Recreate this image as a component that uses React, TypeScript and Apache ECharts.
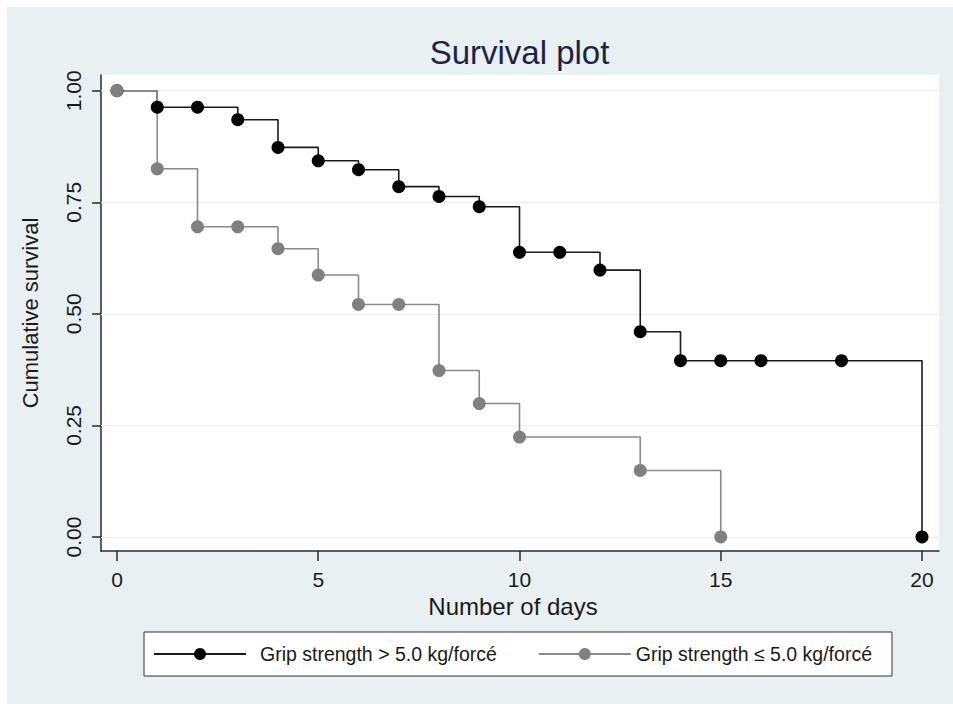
import React, { useEffect, useRef } from "react";
import * as echarts from "echarts";

// Kaplan–Meier estimates
const highDays = [0, 1, 2, 3, 4, 5, 6, 7, 8, 9, 10, 11, 12, 13, 14, 15, 16, 18, 20];
const highSurv = [1.0, 0.963, 0.963, 0.935, 0.873, 0.843, 0.823, 0.785, 0.763, 0.74, 0.638, 0.638, 0.598, 0.46, 0.395, 0.395, 0.395, 0.395, 0.0];
const lowDays = [0, 1, 2, 3, 4, 5, 6, 7, 8, 9, 10, 13, 15];
const lowSurv = [1.0, 0.825, 0.695, 0.695, 0.646, 0.587, 0.521, 0.521, 0.373, 0.299, 0.224, 0.149, 0.0];
const xTicks = [0, 5, 10, 15, 20];
const yTicks = [0, 0.25, 0.5, 0.75, 1];
const seriesNames = ["Grip strength > 5.0 kg/forcé", "Grip strength ≤ 5.0 kg/forcé"];
const chartTitle = "Survival plot";
const xTitle = "Number of days";
const yTitle = "Cumulative survival";

const FONT = "'Liberation Sans', Arial, Helvetica, sans-serif";

export default function App() {
  const ref = useRef<HTMLDivElement>(null);

  useEffect(() => {
    if (!ref.current) return;
    const chart = echarts.init(ref.current, undefined, { renderer: "svg" });
    const highPts = highDays.map((d, i) => [d, highSurv[i]]);
    const lowPts = lowDays.map((d, i) => [d, lowSurv[i]]);
    const axisColor = "#2a2a2a";
    chart.setOption({
      animation: false,
      backgroundColor: "#e9f0f2",
      title: {
        text: chartTitle,
        left: 512.5,
        textAlign: "center",
        top: 29,
        padding: 0,
        textStyle: { fontFamily: FONT, fontSize: 33, fontWeight: "normal", color: "#1b2447" },
      },
      grid: {
        left: 94,
        right: 14,
        top: 68,
        bottom: 153,
        show: true,
        backgroundColor: "#ffffff",
        borderWidth: 0,
      },
      legend: {
        data: [
          { name: seriesNames[0], textStyle: { padding: [0, 0, 0, 9] } },
          { name: seriesNames[1] },
        ],
        left: 137,
        top: 625,
        orient: "horizontal",
        itemWidth: 92,
        itemHeight: 15,
        itemGap: 41,
        padding: [12, 20, 12, 9],
        backgroundColor: "#ffffff",
        borderColor: "#333333",
        borderWidth: 1,
        borderRadius: 0,
        selectedMode: false,
        textStyle: { fontFamily: FONT, fontSize: 19.5, color: "#1a1a1a" },
      },
      xAxis: {
        type: "value",
        min: -0.3975,
        max: 20.4224,
        name: xTitle,
        nameLocation: "middle",
        nameGap: 41,
        nameTextStyle: { fontFamily: FONT, fontSize: 24, color: "#1a1a1a", padding: [0, 14, 0, 0] },
        axisLine: { show: true, onZero: false, lineStyle: { color: axisColor, width: 1.5 } },
        axisTick: { show: true, length: 10, customValues: xTicks, lineStyle: { color: axisColor, width: 1.5 } },
        axisLabel: {
          customValues: xTicks,
          margin: 18,
          fontFamily: FONT,
          fontSize: 21,
          color: "#1a1a1a",
          formatter: (v: number) => String(v),
        },
        splitLine: { show: false },
      },
      yAxis: {
        type: "value",
        min: -0.0314,
        max: 1.0352,
        name: yTitle,
        nameLocation: "middle",
        nameGap: 60,
        nameTextStyle: { fontFamily: FONT, fontSize: 22, color: "#1a1a1a" },
        axisLine: { show: true, onZero: false, lineStyle: { color: axisColor, width: 1.5 } },
        axisTick: { show: true, length: 9, customValues: yTicks, lineStyle: { color: axisColor, width: 1.5 } },
        axisLabel: {
          customValues: yTicks,
          rotate: 90,
          margin: 17,
          fontFamily: FONT,
          fontSize: 21,
          color: "#1a1a1a",
          formatter: (v: number) => v.toFixed(2),
        },
        splitLine: { show: false },
      },
      series: [
        {
          name: seriesNames[0],
          type: "line",
          step: "end",
          data: highPts,
          symbol: "none",
          z: 2,
          lineStyle: { color: "#1a1a1a", width: 1.6 },
          itemStyle: { color: "#000000" },
          markLine: {
            silent: true,
            symbol: "none",
            label: { show: false },
            lineStyle: { color: "#e8eef1", width: 1, type: "solid" },
            data: yTicks.map((t) => ({ yAxis: t })),
            z: 1,
          },
        },
        {
          name: seriesNames[1],
          type: "line",
          step: "end",
          data: lowPts,
          symbol: "none",
          z: 2,
          lineStyle: { color: "#8a8a8a", width: 1.6 },
          itemStyle: { color: "#808080" },
        },
        {
          name: "high-markers",
          type: "scatter",
          data: highPts,
          symbol: "circle",
          symbolSize: 13,
          z: 3,
          itemStyle: { color: "#000000", opacity: 1 },
        },
        {
          name: "low-markers",
          type: "scatter",
          data: lowPts,
          symbol: "circle",
          symbolSize: 13,
          z: 4,
          itemStyle: { color: "#808080", opacity: 1 },
        },
      ],
    });
    return () => chart.dispose();
  }, []);

  return (
    <div style={{ position: "fixed", left: 0, top: 0, width: 953, height: 704, background: "#ffffff" }}>
      <div ref={ref} style={{ position: "absolute", left: 7, top: 7, width: 946, height: 697 }} />
    </div>
  );
}
